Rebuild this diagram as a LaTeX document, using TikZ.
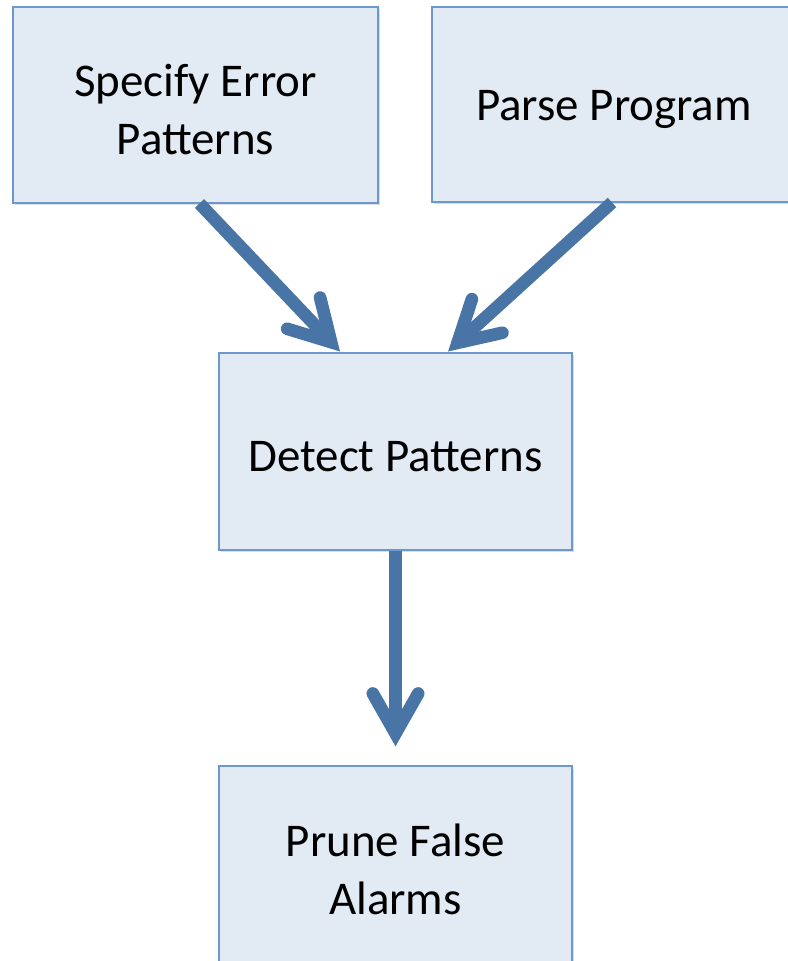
\documentclass[tikz,border=0pt]{standalone}
\usepackage{fontspec}
\setmainfont{Carlito}
\usetikzlibrary{arrows.meta,shadows,calc}
\definecolor{boxfill}{RGB}{226,234,244}
\definecolor{boxline}{RGB}{108,152,206}
\definecolor{flowarrow}{RGB}{72,117,166}
\begin{document}
\begin{tikzpicture}[x=0.75pt,y=-0.75pt,
  stepbox/.style={draw=boxline, line width=1.5pt, fill=boxfill, inner sep=0pt,
    drop shadow={shadow xshift=1.5pt, shadow yshift=-2.2pt, opacity=0.22, fill=black!60}},
  steptext/.style={align=center, inner sep=0pt, yshift=-4pt,
    font=\fontsize{35.2}{43.5}\selectfont},
  flow/.style={draw=flowarrow, line width=9.5pt,
    -{Straight Barb[length=30pt, width=34pt, line cap=round, line join=miter]}}]
  \useasboundingbox (0,0) rectangle (788,961);
  \clip (0,0) rectangle (788,961);

  % boxes
  \node[stepbox, minimum width=365*0.75pt, minimum height=196*0.75pt] (spec) at (195.5,104.5) {};
  \node[stepbox, minimum width=368*0.75pt, minimum height=195*0.75pt] (parse) at (616,104) {};
  \node[stepbox, minimum width=353*0.75pt, minimum height=197*0.75pt] (detect) at (395.5,451) {};
  \node[stepbox, minimum width=353*0.75pt, minimum height=197*0.75pt] (prune) at (395.5,864.5) {};

  % labels
  \node[steptext] (spec-t) at (spec.center) {Specify Error\\Patterns};
  \node[steptext] (parse-t) at ([xshift=-1.5pt]parse.center) {Parse Program};
  \node[steptext] (detect-t) at (detect.center) {Detect Patterns};
  \node[steptext] (prune-t) at (prune.center) {Prune False\\Alarms};

  % flow arrows
  \draw[flow] ([xshift=3pt]spec.south) -- ([xshift=-41.6pt]detect.north);
  \draw[flow] ([xshift=-3pt]parse.south) -- ([xshift=39.4pt]detect.north);
  \draw[flow] (detect.south) -- ([yshift=14pt]prune.north);
\end{tikzpicture}
\end{document}
